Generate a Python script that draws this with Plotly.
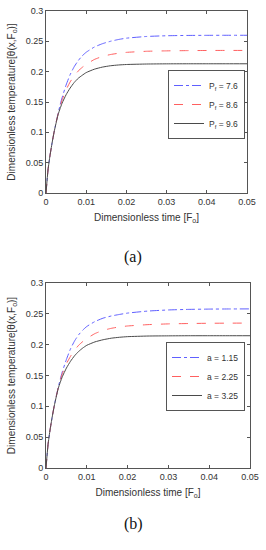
import plotly.graph_objects as go

# ---------------- data ----------------
fo = [0, 0.0005, 0.001, 0.0015, 0.002, 0.0025, 0.003, 0.0035, 0.004, 0.005,
      0.006, 0.007, 0.008, 0.009, 0.010, 0.012, 0.014, 0.016, 0.018, 0.020,
      0.025, 0.030, 0.035, 0.040, 0.045, 0.050]

# panel (a): P_f values
pf_labels = ["P<sub>f</sub> = 7.6", "P<sub>f</sub> = 8.6", "P<sub>f</sub> = 9.6"]
a_pf76 = [0, 0.038, 0.062, 0.082, 0.100, 0.116, 0.131, 0.145, 0.157, 0.178,
          0.195, 0.208, 0.218, 0.226, 0.232, 0.2405, 0.246, 0.2500, 0.2530, 0.2552,
          0.2580, 0.2592, 0.2597, 0.2599, 0.2600, 0.2600]
a_pf86 = [0, 0.038, 0.062, 0.082, 0.100, 0.116, 0.130, 0.142, 0.153, 0.170,
          0.183, 0.193, 0.201, 0.207, 0.212, 0.2200, 0.2250, 0.2282, 0.2303, 0.2318,
          0.2336, 0.2343, 0.2347, 0.2349, 0.2350, 0.2350]
a_pf96 = [0, 0.038, 0.062, 0.082, 0.100, 0.115, 0.129, 0.139, 0.148, 0.162,
          0.173, 0.182, 0.189, 0.194, 0.1985, 0.2040, 0.2075, 0.2097, 0.2110, 0.2118,
          0.2126, 0.2129, 0.2130, 0.2130, 0.2130, 0.2130]

# panel (b): a values
a_labels = ["a = 1.15", "a = 2.25", "a = 3.25"]
b_a115 = [0, 0.038, 0.062, 0.082, 0.100, 0.116, 0.131, 0.144, 0.156, 0.176,
          0.193, 0.206, 0.216, 0.2235, 0.2295, 0.2375, 0.2430, 0.2465, 0.2490, 0.2512,
          0.2545, 0.2563, 0.2572, 0.2577, 0.2579, 0.2580]
b_a225 = [0, 0.038, 0.062, 0.082, 0.100, 0.116, 0.130, 0.142, 0.153, 0.169,
          0.181, 0.191, 0.199, 0.205, 0.210, 0.2180, 0.2232, 0.2265, 0.2288, 0.2303,
          0.2325, 0.2337, 0.2343, 0.2347, 0.2349, 0.2350]
b_a325 = [0, 0.038, 0.062, 0.082, 0.100, 0.115, 0.129, 0.139, 0.148, 0.162,
          0.173, 0.182, 0.189, 0.1945, 0.1990, 0.2045, 0.2080, 0.2105, 0.2120, 0.2130,
          0.2140, 0.2143, 0.2145, 0.2145, 0.2145, 0.2145]

x_ticks = [0, 0.01, 0.02, 0.03, 0.04, 0.05]
x_ticktext = ["0", "0.01", "0.02", "0.03", "0.04", "0.05"]
y_ticks = [0, 0.05, 0.1, 0.15, 0.2, 0.25, 0.3]
y_ticktext = ["0", "0.05", "0.1", "0.15", "0.2", "0.25", "0.3"]

x_title = "Dimensionless time [F<sub>o</sub>]"
y_title = "Dimensionless temperature[θ(x,F<sub>o</sub>)]"
captions = ["(a)", "(b)"]

# ---------------- styles ----------------
W, H = 266, 550
styles = [dict(color="#6060ff", dash="dashdot", width=1),
          dict(color="#ff6060", dash="dash", width=1),
          dict(color="#4a4a4a", dash="solid", width=1)]

fig = go.Figure()
panels = [([a_pf76, a_pf86, a_pf96], pf_labels, "x", "y", "legend"),
          ([b_a115, b_a225, b_a325], a_labels, "x2", "y2", "legend2")]
for series, labels, xa, ya, lg in panels:
    for vals, lab, st in zip(series, labels, styles):
        fig.add_trace(go.Scatter(x=fo, y=vals, mode="lines", name=lab,
                                 line=dict(shape="spline", smoothing=0.5, **st),
                                 xaxis=xa, yaxis=ya, legend=lg))

def px_x(p):
    return p / W

def px_y(p):
    return 1 - p / H

font_txt = dict(family="Liberation Sans", size=10, color="#333333")
axis_common = dict(showgrid=False, zeroline=False, showline=True, mirror="ticks",
                   linecolor="#555555", linewidth=1, ticks="inside", ticklen=3,
                   tickcolor="#555555", automargin=False,
                   tickfont=dict(family="Liberation Sans", size=9, color="#333333"))

legend_common = dict(xanchor="right", yanchor="top",
                     bgcolor="white", bordercolor="#555555", borderwidth=1,
                     font=dict(family="Liberation Sans", size=8.5, color="#333333"),
                     itemwidth=30, tracegroupgap=0)

fig.update_layout(
    width=W, height=H, margin=dict(l=0, r=0, t=0, b=0, autoexpand=False),
    paper_bgcolor="white", plot_bgcolor="white",
    xaxis=dict(domain=[px_x(46), px_x(247)], anchor="y", range=[0, 0.05],
               tickvals=x_ticks, ticktext=x_ticktext,
               title=dict(text=x_title, standoff=8, font=font_txt), **axis_common),
    yaxis=dict(domain=[px_y(193), px_y(11)], anchor="x", range=[0, 0.3],
               tickvals=y_ticks, ticktext=y_ticktext,
               title=dict(text=y_title, standoff=8, font=font_txt), **axis_common),
    xaxis2=dict(domain=[px_x(46), px_x(250)], anchor="y2", range=[0, 0.05],
                tickvals=x_ticks, ticktext=x_ticktext,
                title=dict(text=x_title, standoff=8, font=font_txt), **axis_common),
    yaxis2=dict(domain=[px_y(468), px_y(283)], anchor="x2", range=[0, 0.3],
                tickvals=y_ticks, ticktext=y_ticktext,
                title=dict(text=y_title, standoff=8, font=font_txt), **axis_common),
    legend=dict(x=px_x(245), y=px_y(70), **legend_common),
    legend2=dict(x=px_x(245), y=px_y(342), **legend_common),
    annotations=[
        dict(text=captions[0], x=px_x(133), y=px_y(257), xref="paper", yref="paper",
             showarrow=False, font=dict(family="Liberation Serif", size=16, color="#111111")),
        dict(text=captions[1], x=px_x(133), y=px_y(535), xref="paper", yref="paper",
             showarrow=False, font=dict(family="Liberation Serif", size=16, color="#111111")),
    ],
)

fig.write_html("out.html", config={"displayModeBar": False},
               post_script="document.body.style.margin='0';document.body.style.overflow='hidden';")
